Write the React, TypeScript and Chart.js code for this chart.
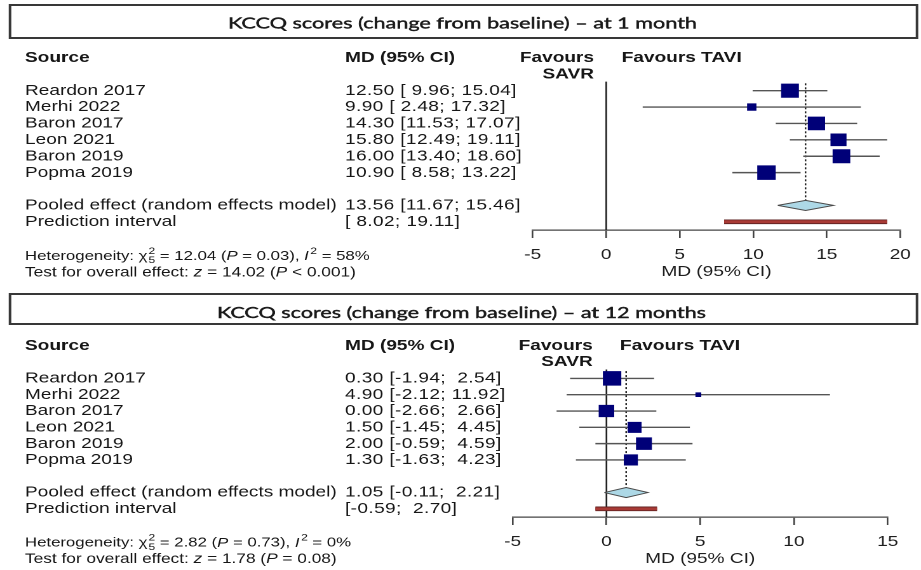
import React, { useEffect, useRef } from "react";
import { Chart, registerables } from "chart.js";

Chart.register(...registerables);

// ---------------- data ----------------
const studies = ["Reardon 2017", "Merhi 2022", "Baron 2017", "Leon 2021", "Baron 2019", "Popma 2019"];

const title1 = "KCCQ scores (change from baseline) \u2013 at 1 month";
const md1 = [12.5, 9.9, 14.3, 15.8, 16.0, 10.9];
const lo1 = [9.96, 2.48, 11.53, 12.49, 13.4, 8.58];
const hi1 = [15.04, 17.32, 17.07, 19.11, 18.6, 13.22];
const weight1 = [19.7, 5.4, 18.5, 15.9, 19.4, 21.0];
const pooled1 = [13.56, 11.67, 15.46];
const predInt1 = [8.02, 19.11];
const hetero1 = ["12.04", "= 0.03", "58%"];
const overall1 = ["14.02", "< 0.001"];
const ticks1 = [-5, 0, 5, 10, 15, 20];

const title2 = "KCCQ scores (change from baseline) \u2013 at 12 months";
const md2 = [0.3, 4.9, 0.0, 1.5, 2.0, 1.3];
const lo2 = [-1.94, -2.12, -2.66, -1.45, -0.59, -1.63];
const hi2 = [2.54, 11.92, 2.66, 4.45, 4.59, 4.23];
const weight2 = [26.9, 2.7, 19.1, 15.5, 20.1, 15.7];
const pooled2 = [1.05, -0.11, 2.21];
const predInt2 = [-0.59, 2.7];
const hetero2 = ["2.82", "= 0.73", "0%"];
const overall2 = ["1.78", "= 0.08"];
const ticks2 = [-5, 0, 5, 10, 15];

// ---------------- layout ----------------
const CW = 725; // logical canvas width (stretched to 921 by CSS)
const CH = 285;
const S = 921 / CW;
const FF = '"Liberation Sans", Arial, Helvetica, sans-serif';
const TXT = "#161616";

const NAME_X = 25 / S;
const VAL_X = 345 / S;
const BOX_L = 10 / S;
const BOX_R = 917 / S;
const MAX_SIDE = 14.5;
const DH = 0.31;

type Panel = {
  title: string;
  md: number[];
  lo: number[];
  hi: number[];
  weight: number[];
  pooled: number[];
  pi: number[];
  het: string[];
  ovr: string[];
  ticks: number[];
  xMin: number;
  xMax: number;
  padL: number;
  padR: number;
  padT: number;
  padB: number;
  favR: number;
  taviX: number;
  boxTop: number;
  boxBot: number;
  titleCx: number;
  titleW: number;
  titleBase: number;
};

const panel1: Panel = {
  title: title1, md: md1, lo: lo1, hi: hi1, weight: weight1, pooled: pooled1, pi: predInt1,
  het: hetero1, ovr: overall1, ticks: ticks1, xMin: -5, xMax: 20,
  padL: 532.7 / S, padR: CW - 908 / S, padT: 41.5, padB: 4,
  favR: 594 / S, taviX: 621.7 / S,
  boxTop: 5, boxBot: 38, titleCx: 462.5 / S, titleW: 469 / S, titleBase: 28.3,
};

const panel2: Panel = {
  title: title2, md: md2, lo: lo2, hi: hi2, weight: weight2, pooled: pooled2, pi: predInt2,
  het: hetero2, ovr: overall2, ticks: ticks2, xMin: -5, xMax: 15,
  padL: 512.7 / S, padR: CW - 887.7 / S, padT: 44.5, padB: 2,
  favR: 592.7 / S, taviX: 620 / S,
  boxTop: 9, boxBot: 39, titleCx: 461.5 / S, titleW: 489 / S, titleBase: 33,
};

const padTo = (s: string, n: number) => " ".repeat(Math.max(0, n - s.length)) + s;

type Part = string | { it: string } | { sup: string } | { supsub: [string, string] };

function drawRich(ctx: CanvasRenderingContext2D, x: number, y: number, parts: Part[], size: number) {
  const small = size * 0.72;
  for (const p of parts) {
    if (typeof p === "string") {
      ctx.font = `${size}px ${FF}`;
      ctx.fillText(p, x, y);
      x += ctx.measureText(p).width;
    } else if ("it" in p) {
      ctx.font = `italic ${size}px ${FF}`;
      ctx.fillText(p.it, x, y);
      x += ctx.measureText(p.it).width;
    } else if ("sup" in p) {
      ctx.font = `${small}px ${FF}`;
      ctx.fillText(p.sup, x + 1.2, y - size * 0.38);
      x += ctx.measureText(p.sup).width + 1.2;
    } else {
      ctx.font = `${small}px ${FF}`;
      const [a, b] = p.supsub;
      ctx.fillText(a, x + 0.8, y - size * 0.38);
      ctx.fillText(b, x + 0.8, y + size * 0.32);
      x += Math.max(ctx.measureText(a).width, ctx.measureText(b).width) + 0.8;
    }
  }
}

function textPlugin(p: Panel) {
  return {
    id: "forestText",
    afterDraw(chart: any) {
      const ctx: CanvasRenderingContext2D = chart.ctx;
      const ys = chart.scales.y;
      const Y = (v: number) => ys.getPixelForValue(v);
      ctx.save();
      // title box
      ctx.strokeStyle = "#383838";
      ctx.lineWidth = 2;
      ctx.strokeRect(BOX_L, p.boxTop, BOX_R - BOX_L, p.boxBot - p.boxTop);
      ctx.fillStyle = "#1a1a1a";
      ctx.strokeStyle = "#1a1a1a";
      ctx.lineWidth = 0.4;
      ctx.font = `15px Lato, "Open Sans", sans-serif`;
      ctx.textBaseline = "alphabetic";
      ctx.textAlign = "left";
      const tw = ctx.measureText(p.title).width;
      ctx.save();
      ctx.translate(p.titleCx - p.titleW / 2, p.titleBase);
      ctx.scale(p.titleW / tw, 1);
      ctx.fillText(p.title, 0, 0);
      ctx.strokeText(p.title, 0, 0);
      ctx.restore();

      ctx.fillStyle = TXT;
      ctx.textBaseline = "middle";
      // headers
      ctx.font = `bold 15px ${FF}`;
      ctx.fillText("Source", NAME_X, Y(-2));
      ctx.fillText("MD (95% CI)", VAL_X, Y(-2));
      ctx.fillText("Favours TAVI", p.taviX, Y(-2));
      ctx.textAlign = "right";
      ctx.fillText("Favours", p.favR, Y(-2));
      ctx.fillText("SAVR", p.favR, Y(-1));
      ctx.textAlign = "left";

      // columns
      const loS = [...p.lo, p.pooled[1], p.pi[0]].map((v) => v.toFixed(2));
      const hiS = [...p.hi, p.pooled[2], p.pi[1]].map((v) => v.toFixed(2));
      const wl = Math.max(...loS.map((s) => s.length));
      const wh = Math.max(...hiS.map((s) => s.length));
      const ci = (i: number) => `[${padTo(loS[i], wl)}; ${padTo(hiS[i], wh)}]`;
      ctx.font = `15px ${FF}`;
      const n = studies.length;
      studies.forEach((name, i) => ctx.fillText(name, NAME_X, Y(i)));
      ctx.fillText("Pooled effect (random effects model)", NAME_X, Y(7));
      ctx.fillText("Prediction interval", NAME_X, Y(8));
      (ctx as any).letterSpacing = "0.3px";
      studies.forEach((_, i) => ctx.fillText(`${p.md[i].toFixed(2)} ${ci(i)}`, VAL_X, Y(i)));
      ctx.fillText(`${p.pooled[0].toFixed(2)} ${ci(n)}`, VAL_X, Y(7));
      ctx.fillText(ci(n + 1), VAL_X, Y(8));
      (ctx as any).letterSpacing = "0px";

      // heterogeneity
      drawRich(ctx, NAME_X, Y(10.1), [
        "Heterogeneity: \u03c7",
        { supsub: ["2", String(n - 1)] },
        ` = ${p.het[0]} (`,
        { it: "P" },
        ` ${p.het[1]}), `,
        { it: "I" },
        { sup: "2" },
        ` = ${p.het[2]}`,
      ], 13.2);
      drawRich(ctx, NAME_X, Y(11.1), [
        "Test for overall effect: ",
        { it: "z" },
        ` = ${p.ovr[0]} (`,
        { it: "P" },
        ` ${p.ovr[1]})`,
      ], 13.6);
      ctx.restore();
    },
  };
}

function buildConfig(p: Panel): any {
  const maxW = Math.max(...p.weight);
  const radius = p.weight.map((w) => (MAX_SIDE * Math.sqrt(w / maxW)) / Math.SQRT2);
  const line = { pointRadius: 0, tension: 0, fill: false };
  const datasets: any[] = [];
  datasets.push({
    ...line,
    data: p.md.map((m, i) => ({ x: m, y: i })),
    showLine: false,
    pointStyle: "rect",
    pointRadius: radius,
    pointBackgroundColor: "#000078",
    pointBorderWidth: 0,
    order: 0,
  });
  datasets.push({
    ...line,
    data: [
      { x: p.pooled[1], y: 7 },
      { x: p.pooled[0], y: 7 - DH },
      { x: p.pooled[2], y: 7 },
      { x: p.pooled[0], y: 7 + DH },
      { x: p.pooled[1], y: 7 },
    ],
    fill: "shape",
    backgroundColor: "#add8e6",
    borderColor: "#4a4a4a",
    borderWidth: 1,
    order: 1,
  });
  datasets.push({
    ...line,
    data: [{ x: p.pi[0], y: 8 }, { x: p.pi[1], y: 8 }],
    borderColor: "#a83a35",
    borderWidth: 3,
    borderCapStyle: "butt",
    order: 1,
  });
  datasets.push({
    ...line,
    data: [{ x: p.pi[0], y: 8 }, { x: p.pi[1], y: 8 }],
    borderColor: "#5a2020",
    borderWidth: 4.6,
    borderCapStyle: "butt",
    order: 2,
  });
  p.md.forEach((_, i) => {
    datasets.push({
      ...line,
      data: [{ x: p.lo[i], y: i }, { x: p.hi[i], y: i }],
      borderColor: "#555555",
      borderWidth: 1.4,
      order: 3,
    });
  });
  datasets.push({
    ...line,
    data: [{ x: 0, y: -0.55 }, { x: 0, y: 8.5 }],
    borderColor: "#222222",
    borderWidth: 1.3,
    order: 4,
  });
  datasets.push({
    ...line,
    data: [{ x: p.pooled[0], y: -0.45 }, { x: p.pooled[0], y: 7 }],
    borderColor: "#222222",
    borderWidth: 1.2,
    borderDash: [2, 2],
    order: 4,
  });

  return {
    type: "line",
    data: { datasets },
    options: {
      animation: false,
      responsive: false,
      devicePixelRatio: 2,
      events: [],
      layout: { padding: { left: p.padL, right: p.padR, top: p.padT, bottom: p.padB } },
      plugins: { legend: { display: false }, tooltip: { enabled: false } },
      scales: {
        x: {
          type: "linear",
          min: p.xMin,
          max: p.xMax,
          afterBuildTicks: (s: any) => {
            s.ticks = p.ticks.map((v) => ({ value: v }));
          },
          ticks: { font: { family: FF, size: 15 }, color: "#1e1e1e", padding: 8, autoSkip: false, maxRotation: 0 },
          grid: { drawOnChartArea: false, drawTicks: true, tickLength: 8, color: "#444444", lineWidth: 1.3 },
          border: { display: true, color: "#444444", width: 1.3 },
          title: {
            display: true,
            text: "MD (95% CI)",
            font: { family: FF, size: 15 },
            color: "#1e1e1e",
            padding: { top: -9, bottom: 0 },
          },
        },
        y: { type: "linear", display: false, reverse: true, min: -3, max: 8.5 },
      },
    },
    plugins: [textPlugin(p)],
  };
}

function ForestCanvas({ panel }: { panel: Panel }) {
  const ref = useRef<HTMLCanvasElement>(null);
  useEffect(() => {
    const chart = new Chart(ref.current as HTMLCanvasElement, buildConfig(panel));
    return () => chart.destroy();
  }, [panel]);
  return (
    <canvas
      ref={ref}
      width={CW}
      height={CH}
      style={{ display: "block", width: "921px", height: `${CH}px` }}
    />
  );
}

export default function App() {
  return (
    <div style={{ position: "absolute", left: 0, top: 0, width: 921, height: 570, background: "#ffffff", overflow: "hidden" }}>
      <ForestCanvas panel={panel1} />
      <ForestCanvas panel={panel2} />
    </div>
  );
}
